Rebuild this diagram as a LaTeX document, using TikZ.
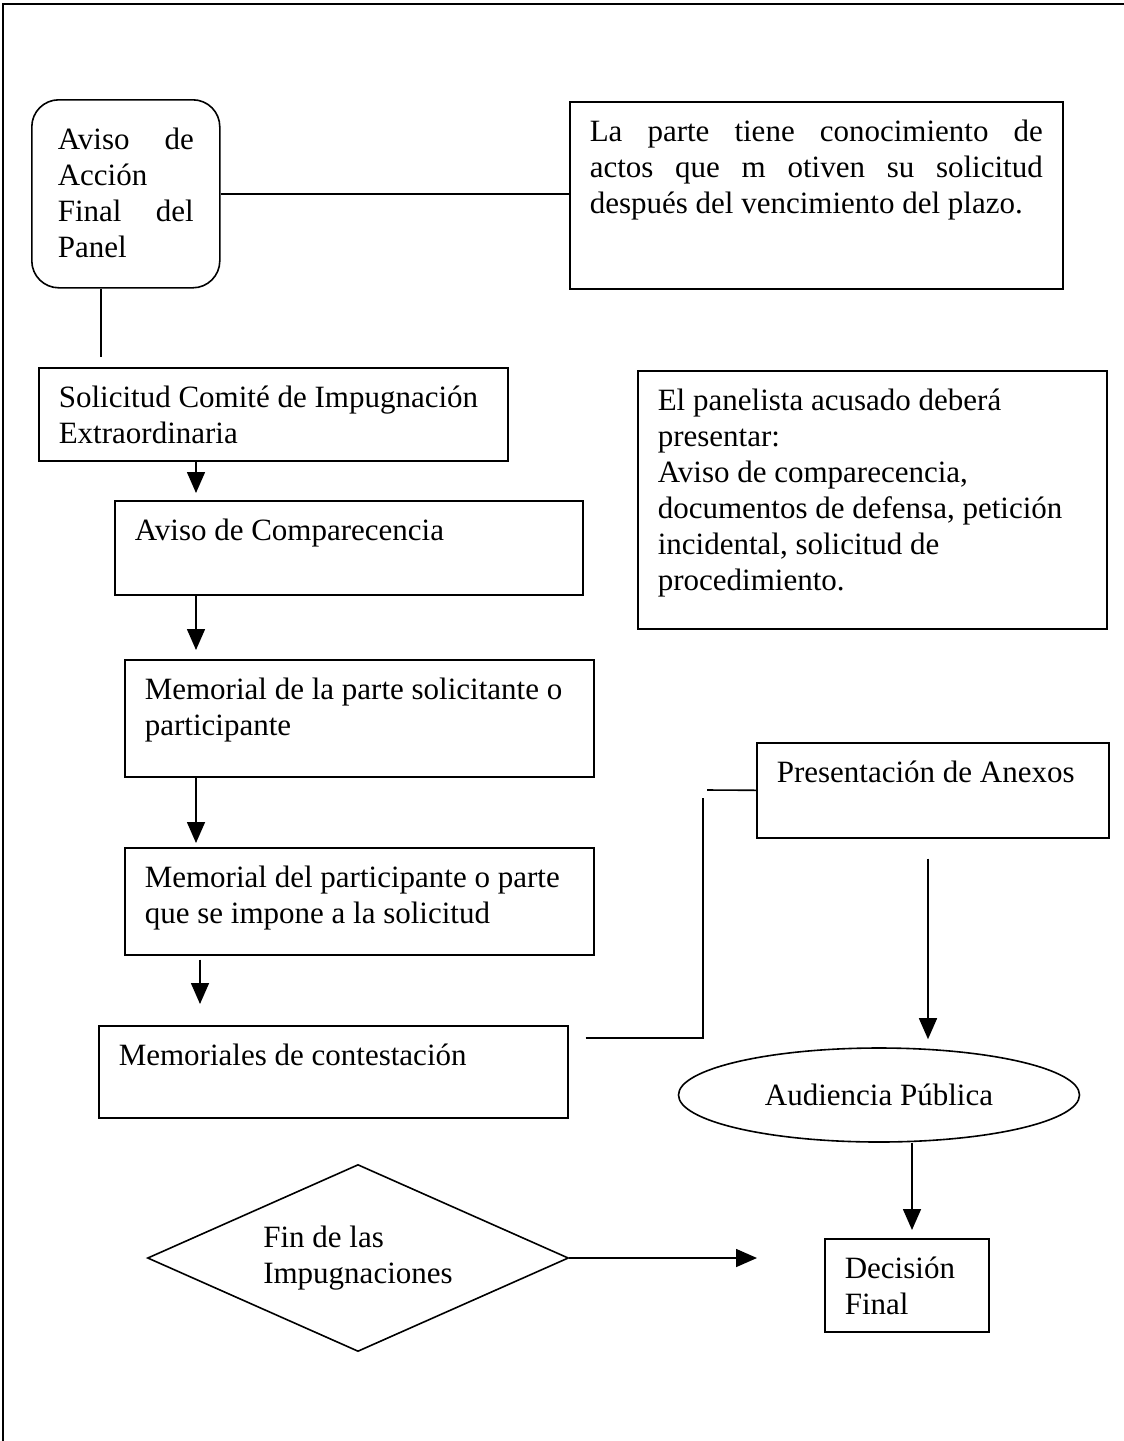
\documentclass[tikz,border=0pt]{standalone}
\usepackage{fontspec}
\setmainfont{Liberation Serif}
\usetikzlibrary{arrows.meta,shapes.geometric}
\newcommand{\boxtxt}[3]{\begin{minipage}[t][#2][t]{#1}\strut#3\end{minipage}}

\begin{document}
\begin{tikzpicture}[x=1pt,y=-1pt,line width=1.6pt,
  font=\fontsize{31}{36}\selectfont,
  stepbox/.style={draw,rectangle,anchor=north west,inner xsep=20pt,inner ysep=14pt},
  arr/.style={-{Triangle[length=21pt,width=18pt]}}]
  \useasboundingbox (0,0) rectangle (1124,1441);
  % page frame
  \draw (3,1441) -- (3,4) -- (1124,4);
  % boxes
  \node[stepbox,rounded corners=27pt,inner xsep=26pt,inner ysep=24pt] (avisopanel) at (31,99)
    {\boxtxt{136pt}{140pt}{Aviso de\linebreak Acción\linebreak Final del\linebreak Panel}};
  \node[stepbox] (laparte) at (569,101)
    {\boxtxt{453pt}{159pt}{La parte tiene conocimiento de\linebreak actos que m otiven su solicitud\linebreak después del vencimiento del plazo.}};
  \node[stepbox] (solic) at (38,367)
    {\boxtxt{429pt}{65pt}{Solicitud Comité de Impugnación\\Extraordinaria}};
  \node[stepbox] (avisocomp) at (114,500)
    {\boxtxt{428pt}{66pt}{Aviso de Comparecencia}};
  \node[stepbox] (memsol) at (124,659)
    {\boxtxt{429pt}{89pt}{Memorial de la parte solicitante o\\participante}};
  \node[stepbox] (memopp) at (124,847)
    {\boxtxt{429pt}{79pt}{Memorial del participante o parte\\que se impone a la solicitud}};
  \node[stepbox] (memcont) at (98,1025)
    {\boxtxt{429pt}{64pt}{Memoriales de contestación}};
  \node[stepbox] (panelista) at (637,370)
    {\boxtxt{429pt}{230pt}{El panelista acusado deberá\\presentar:\\Aviso de comparecencia,\\documentos de defensa, petición\\incidental, solicitud de\\procedimiento.}};
  \node[stepbox] (anexos) at (756,742)
    {\boxtxt{312pt}{67pt}{Presentación de Anexos}};
  \node[stepbox] (decision) at (824,1238)
    {\boxtxt{124pt}{65pt}{Decisión\\Final}};
  \node[draw,ellipse,inner sep=0pt,minimum width=401pt,minimum height=94pt] (audiencia) at (879,1095) {Audiencia Pública};
  \node[draw,diamond,shape aspect=2.25,inner sep=0pt,minimum width=421pt,minimum height=187pt,align=left] (fin) at (358,1258) {Fin de las\\Impugnaciones};
  % connectors
  \coordinate (linkpanel) at (101,0);
  \coordinate (spine) at (196,0);
  \coordinate (spinelow) at (200,0);
  \coordinate (elbow) at (703,1038);
  \coordinate (elbowtop) at (703,798);
  \coordinate (stub) at (707,790);
  \coordinate (drop) at (928,0);
  \coordinate (dropfinal) at (912,0);
  \draw[shorten >=10pt] (avisopanel.south -| linkpanel) -- (solic.north -| linkpanel);
  \draw (avisopanel.east) -- (avisopanel.east -| laparte.west);
  \draw[arr,shorten >=7pt] (solic.south -| spine) -- (avisocomp.north -| spine);
  \draw[arr,shorten >=9pt] (avisocomp.south -| spine) -- (memsol.north -| spine);
  \draw[arr,shorten >=4pt] (memsol.south -| spine) -- (memopp.north -| spine);
  \draw[arr,shorten <=4pt,shorten >=21pt] (memopp.south -| spinelow) -- (memcont.north -| spinelow);
  \draw[shorten <=17pt] (memcont.east |- elbow) -- (elbow) -- (elbowtop);
  \draw (stub) -- (anexos.west);
  \draw[arr,shorten <=20pt,shorten >=8pt] (anexos.south -| drop) -- (audiencia.north -| drop);
  \draw[arr,shorten >=8pt] (audiencia.south -| dropfinal) -- (decision.north -| dropfinal);
  \draw[arr,shorten >=67pt] (fin.east) -- (fin.east -| decision.west);
\end{tikzpicture}
\end{document}
